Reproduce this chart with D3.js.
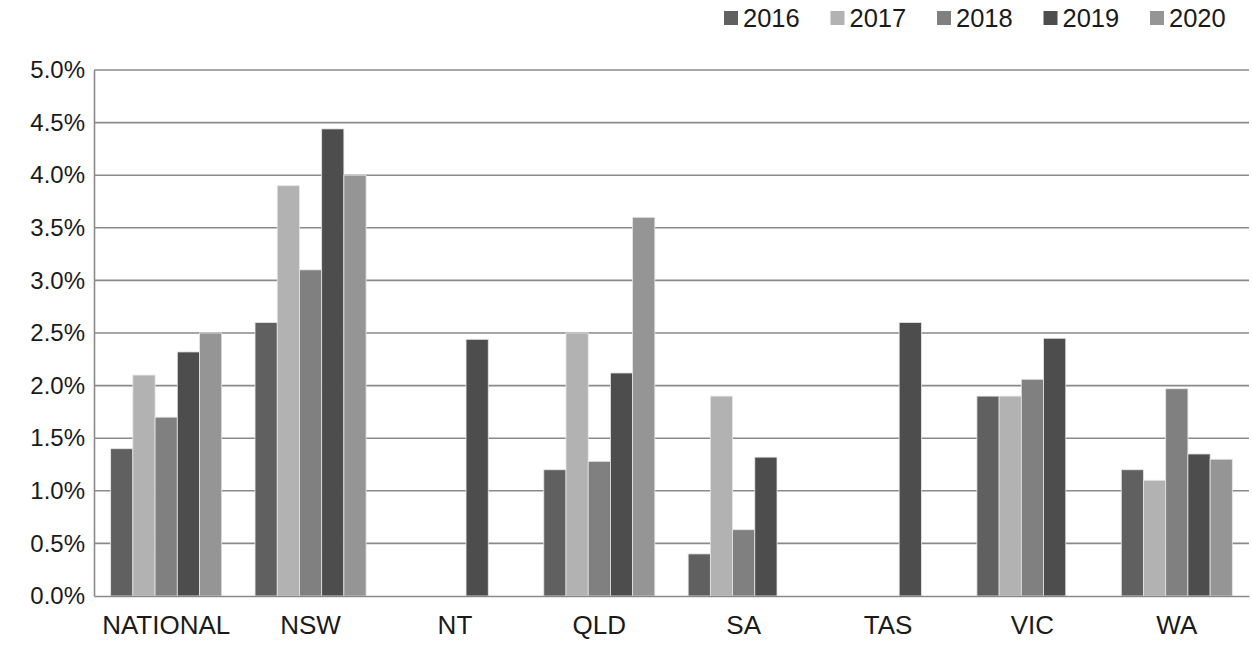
<!DOCTYPE html>
<html><head><meta charset="utf-8">
<script src="https://cdn.jsdelivr.net/npm/d3@7"></script>
<style>
html,body{margin:0;padding:0;background:#fff;}
text{font-family:"Liberation Sans",Arial,sans-serif;fill:#1a1a1a;}
</style></head>
<body><svg id="c" width="1252" height="645"></svg>
<script>
const categories = ["NATIONAL","NSW","NT","QLD","SA","TAS","VIC","WA"];
const years = ["2016","2017","2018","2019","2020"];
const colors = ["#606060","#b2b2b2","#7f807f","#4d4d4d","#959595"];
const s2016 = [1.40, 2.60, null, 1.20, 0.40, null, 1.90, 1.20];
const s2017 = [2.10, 3.90, null, 2.50, 1.90, null, 1.90, 1.10];
const s2018 = [1.70, 3.10, null, 1.28, 0.63, null, 2.06, 1.97];
const s2019 = [2.32, 4.44, 2.44, 2.12, 1.32, 2.60, 2.45, 1.35];
const s2020 = [2.50, 4.00, null, 3.60, null, null, null, 1.30];
const series = [s2016, s2017, s2018, s2019, s2020];
const yTicks = [0,0.5,1,1.5,2,2.5,3,3.5,4,4.5,5];

const svg = d3.select("#c");
const L = 94, R = 1249, T = 70, B = 596;
const x = d3.scaleBand().domain(categories).range([L, R]).paddingInner(0).paddingOuter(0);
const bw = x.bandwidth() / 6.5;
const xi = d3.scaleBand().domain(years).range([0.75*bw, x.bandwidth()-0.75*bw]);
const y = d3.scaleLinear().domain([0,5]).range([B, T]);

// gridlines
svg.append("g").selectAll("line").data(yTicks.filter(d=>d>0)).join("line")
  .attr("x1", L).attr("x2", R).attr("y1", d=>y(d)).attr("y2", d=>y(d))
  .attr("stroke", "#8a8a8a").attr("stroke-width", 1.6);

// bars
years.forEach((yr, si) => {
  const data = categories.map((c,i)=>({c, v: series[si][i]})).filter(d=>d.v!=null);
  svg.append("g").selectAll("rect").data(data).join("rect")
    .attr("x", d => x(d.c) + xi(yr))
    .attr("width", xi.bandwidth())
    .attr("y", d => y(d.v))
    .attr("height", d => y(0) - y(d.v))
    .attr("fill", colors[si])
    .attr("stroke", "#e6e6e6").attr("stroke-width", 0.8);
});

// axes
const yAxis = d3.axisLeft(y).tickValues(yTicks).tickSize(0).tickPadding(9)
  .tickFormat(d => d.toFixed(1) + "%");
const gy = svg.append("g").attr("transform", `translate(${L},0)`).call(yAxis);
gy.select(".domain").attr("stroke", "#8a8a8a").attr("stroke-width", 1.6);
gy.selectAll("text").style("font-size", "24px").attr("fill", "#1a1a1a");

const xAxis = d3.axisBottom(x).tickSize(0).tickPadding(20);
const gx = svg.append("g").attr("transform", `translate(0,${B})`).call(xAxis);
gx.select(".domain").attr("stroke", "#8a8a8a").attr("stroke-width", 1.6);
gx.selectAll("text").style("font-size", "26px").attr("fill", "#1a1a1a");

// legend
const lg = svg.append("g");
years.forEach((yr, i) => {
  const gx0 = 724 + i*106.5;
  lg.append("rect").attr("x", gx0).attr("y", 11).attr("width", 14).attr("height", 14).attr("fill", colors[i]);
  lg.append("text").attr("x", gx0 + 19).attr("y", 18).attr("dominant-baseline","central")
    .style("font-size","25.5px").text(yr);
});
</script></body></html>
